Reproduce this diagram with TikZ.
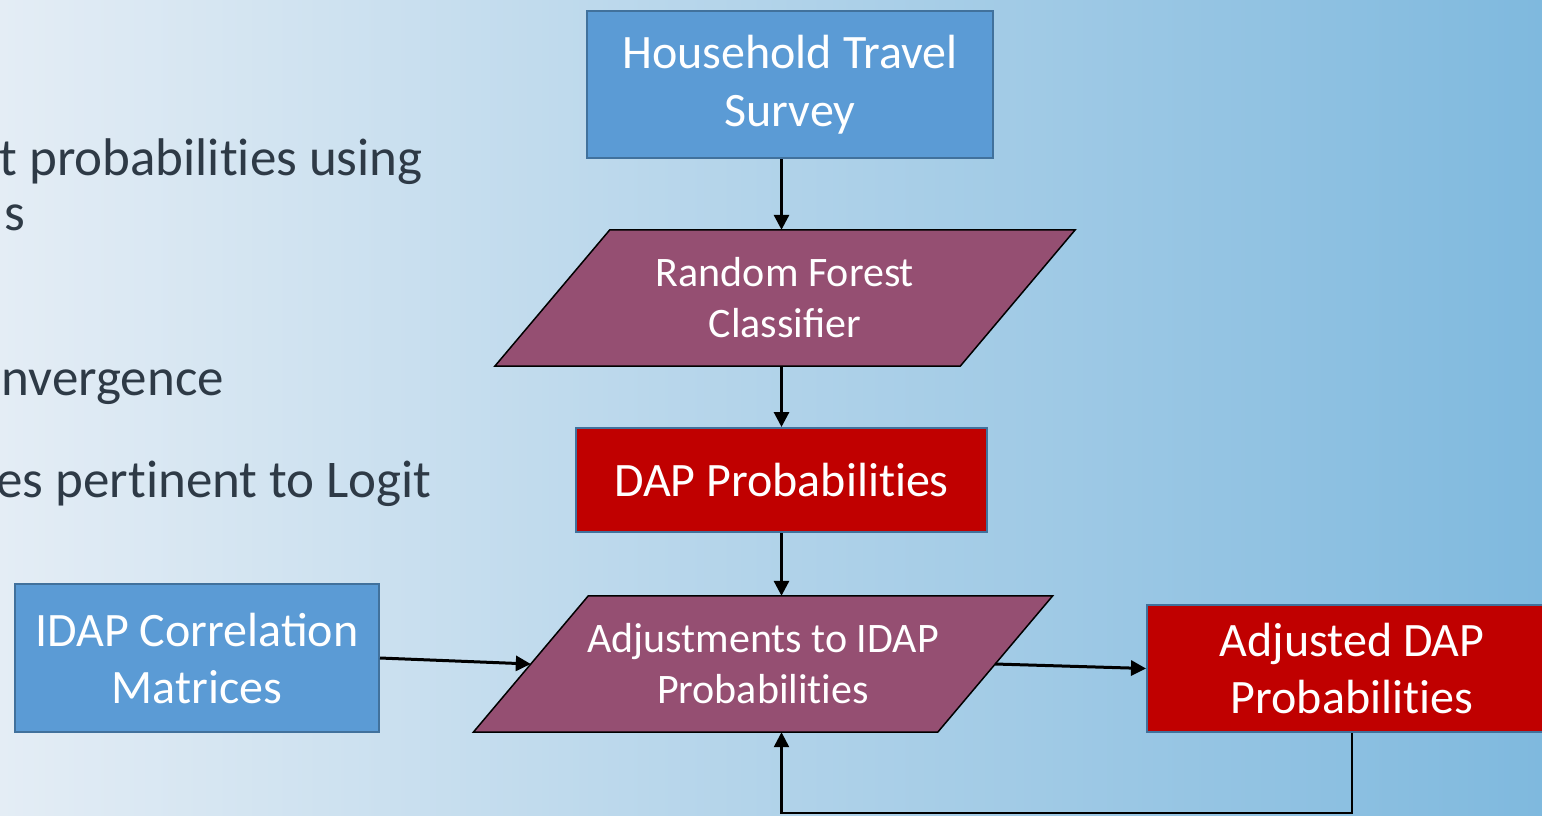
\documentclass[tikz,border=0pt]{standalone}
\usepackage{fontspec}
\setmainfont{Carlito}
\usetikzlibrary{arrows.meta,positioning,backgrounds}

\definecolor{boxblue}{HTML}{5B9BD5}
\definecolor{edgeblue}{HTML}{41719C}
\definecolor{boxred}{HTML}{C00000}
\definecolor{boxplum}{HTML}{954F72}
\definecolor{bgleft}{RGB}{228,237,245}
\definecolor{bgright}{RGB}{127,185,222}
\definecolor{slate}{RGB}{46,58,70}
% keep t and i apart (no ligature)
\newcommand{\nti}{t\kern0pt i}

\begin{document}
\begin{tikzpicture}[x=1pt,y=-1pt,
  bluebox/.style={draw=edgeblue,line width=2pt,fill=boxblue,text=white,align=center,inner sep=0pt},
  redbox/.style={draw=edgeblue,line width=2pt,fill=boxred,text=white,align=center,inner sep=0pt},
  slantbox/.style={text=white,align=center,inner sep=0pt,minimum width=465,minimum height=136},
  slantedge/.style={draw=black,line width=1.5pt,fill=boxplum},
  bullet/.style={text=slate,anchor=base east,inner sep=0pt,font=\fontsize{53}{60}\selectfont},
  flow/.style={line width=3pt,-{Triangle[length=15pt,width=15pt]}}]

\useasboundingbox (0,0) rectangle (1542,815);
\clip (0,0) rectangle (1542,815);

% text of the slide, cut at the left
\node[bullet] (t1) at (423,175) {t probabili\nti es using};
\node[bullet] (t2) at (25,230) {s};
\node[bullet] (t3) at (224,395) {nvergence};
\node[bullet] (t4) at (432,497) {es per\nti nent to Logit};

% flow chart
\node[bluebox,minimum width=406,minimum height=147,font=\fontsize{48}{58}\selectfont] (hts) at (790,84.5) {Household Travel\\Survey};
\node[slantbox,font=\fontsize{42}{51}\selectfont] (rf) at (785,298) {Random Forest\\Classifier};
\node[redbox,minimum width=411,minimum height=104,font=\fontsize{48}{58}\selectfont] (dap) at (781.5,480) {DAP Probabili\nti es};
\node[slantbox,minimum width=464,font=\fontsize{42}{51}\selectfont] (adj) at (763,664) {Adjustments to IDAP\\Probabili\nti es};
\node[bluebox,minimum width=364,minimum height=148,font=\fontsize{48}{57}\selectfont] (idap) at (197,658) {IDAP Correlation\\Matrices};
\node[redbox,minimum width=410,minimum height=127,font=\fontsize{48}{57}\selectfont] (adjdap) at (1352,668.5) {Adjusted DAP\\Probabili\nti es};

\begin{scope}[on background layer]
\fill[left color=bgleft,right color=bgright] (0,0) rectangle (1542,815);
\foreach \p in {rf,adj}
  \draw[slantedge] ([xshift=-57.5]\p.south west) -- ([xshift=-57.5]\p.south east)
    -- ([xshift=57.5]\p.north east) -- ([xshift=57.5]\p.north west) -- cycle;
\end{scope}

\draw[flow] (hts.south -| dap.center) -- (rf.north -| dap.center);
\draw[flow] (rf.south -| dap.center) -- (dap.north);
\draw[flow] (dap.south) -- (adj.north -| dap.center);
\draw[flow] (idap.east) -- (adj.west);
\draw[flow] (adj.east) -- (adjdap.west);
\draw[flow,line width=2.5pt] (adjdap.south) -- ++(0,80) -| (adj.south -| dap.center);

\end{tikzpicture}
\end{document}
